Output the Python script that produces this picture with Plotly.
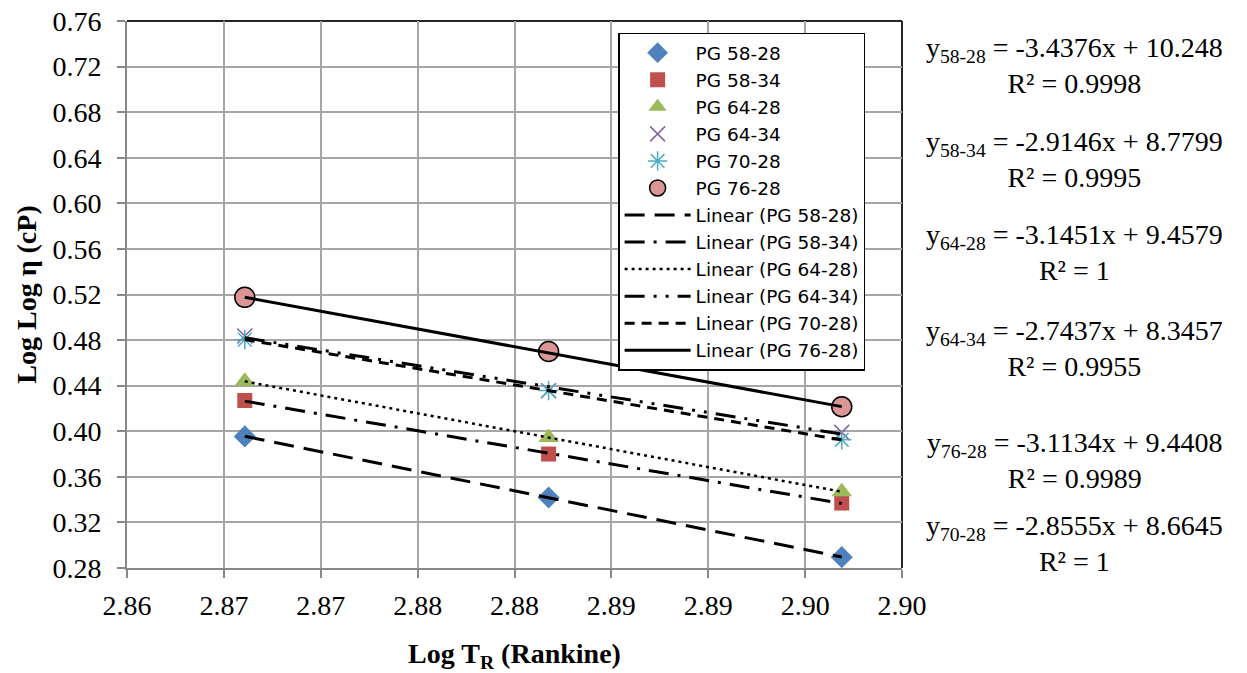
import plotly.graph_objects as go

# Log of absolute temperature (Rankine) at the three test temperatures
log_tr = [2.86608, 2.88176, 2.89689]

# Log Log viscosity (cP) for each binder grade
grades = ["PG 58-28", "PG 58-34", "PG 64-28", "PG 64-34", "PG 70-28", "PG 76-28"]
pg_58_28 = [0.3955, 0.3418, 0.2895]
pg_58_34 = [0.4270, 0.3800, 0.3370]
pg_64_28 = [0.4438, 0.3945, 0.3469]
pg_64_34 = [0.4835, 0.4355, 0.3990]
pg_70_28 = [0.4804, 0.4357, 0.3925]
pg_76_28 = [0.5175, 0.4700, 0.4215]
series = [pg_58_28, pg_58_34, pg_64_28, pg_64_34, pg_70_28, pg_76_28]

# Linear trendline coefficients (slope, intercept) and R² per grade
slopes = [-3.4376, -2.9146, -3.1451, -2.7437, -2.8555, -3.1134]
intercepts = [10.248, 8.7799, 9.4579, 8.3457, 8.6645, 9.4408]
r_squared = ["0.9998", "0.9995", "1", "0.9955", "1", "0.9989"]

# Axis ticks
x_tickvals = [2.860, 2.865, 2.870, 2.875, 2.880, 2.885, 2.890, 2.895, 2.900]
x_ticktext = ["2.86", "2.87", "2.87", "2.88", "2.88", "2.89", "2.89", "2.90", "2.90"]
y_tickvals = [0.28, 0.32, 0.36, 0.40, 0.44, 0.48, 0.52, 0.56, 0.60, 0.64, 0.68, 0.72, 0.76]

# Marker styling per grade
marker_styles = [
    dict(symbol="diamond", size=17, color="#4F81BD"),
    dict(symbol="square", size=15, color="#C0504D"),
    dict(symbol="triangle-up", size=18, color="#9BBB59"),
    dict(symbol="x-thin-open", size=15, color="#8064A2", line=dict(color="#8064A2", width=1.5)),
    dict(symbol="asterisk-open", size=16, color="#4BACC6", line=dict(color="#4BACC6", width=1.5)),
    dict(symbol="circle", size=20, color="#D99694", line=dict(color="#000000", width=1.5)),
]
line_dashes = [
    "20px,10px",
    "20px,9px,3px,9px",
    "3px,4px",
    "20px,9px,3px,9px,3px,9px",
    "10px,7px",
    "solid",
]
line_widths = [3, 3, 2.5, 3, 3, 3]

fig = go.Figure()

for name, ys, mk in zip(grades, series, marker_styles):
    fig.add_trace(go.Scatter(x=log_tr, y=ys, mode="markers", name=name, marker=mk))

x_fit = [min(log_tr), max(log_tr)]
for name, m, b, dash, w in zip(grades, slopes, intercepts, line_dashes, line_widths):
    fig.add_trace(go.Scatter(
        x=x_fit, y=[m * xv + b for xv in x_fit], mode="lines",
        name=f"Linear ({name})", line=dict(color="#000000", width=w, dash=dash),
    ))

# Trendline equation labels to the right of the plot
label_order = [0, 1, 2, 3, 5, 4]
label_y = [66, 160, 253, 349, 461, 544]
for idx, ypix in zip(label_order, label_y):
    tag = grades[idx].replace("PG ", "")
    text = (f"y<sub>{tag}</sub> = {slopes[idx]}x + {intercepts[idx]}"
            f"<br>R² = {r_squared[idx]}")
    fig.add_annotation(
        xref="paper", yref="paper",
        x=(1075 - 126.7) / 775.3, y=(568.5 - ypix) / 547.5,
        text=text, showarrow=False, align="center",
        xanchor="center", yanchor="middle",
        font=dict(family="Liberation Serif", size=28, color="#000000"),
    )

# Dark frame on the top and right sides of the plot area
fig.add_shape(type="line", xref="paper", yref="paper", x0=0, x1=1, y0=1, y1=1,
              line=dict(color="#262626", width=2), layer="below")
fig.add_shape(type="line", xref="paper", yref="paper", x0=1, x1=1, y0=0, y1=1,
              line=dict(color="#262626", width=2), layer="below")

axis_common = dict(
    showgrid=True, gridcolor="#A6A6A6", gridwidth=1.5,
    showline=True, linecolor="#888888", linewidth=2,
    ticks="outside", ticklen=8, tickcolor="#888888", tickwidth=1.5,
    tickfont=dict(family="Liberation Serif", size=28, color="#000000"),
    zeroline=False, automargin=False,
)

fig.update_layout(
    width=1247, height=673,
    margin=dict(l=126.7, r=345, t=21, b=104.5, autoexpand=False),
    plot_bgcolor="#FFFFFF", paper_bgcolor="#FFFFFF",
    xaxis=dict(
        range=[2.86, 2.90], tickmode="array",
        tickvals=x_tickvals, ticktext=x_ticktext, ticklabelstandoff=3,
        title=dict(text="<b>Log T<sub>R</sub> (Rankine)</b>", standoff=27,
                   font=dict(family="Liberation Serif", size=28, color="#000000")),
        **axis_common,
    ),
    yaxis=dict(
        range=[0.28, 0.76], tickmode="array", tickvals=y_tickvals, tickformat=".2f",
        ticklabelstandoff=10,
        title=dict(text="<b>Log Log η (cP)</b>", standoff=8,
                   font=dict(family="Liberation Serif", size=28, color="#000000")),
        **axis_common,
    ),
    legend=dict(
        x=(618 - 126.7) / 775.3, y=(568.5 - 32.7) / 547.5,
        xanchor="left", yanchor="top",
        bgcolor="#FFFFFF", bordercolor="#000000", borderwidth=1.5,
        font=dict(family="DejaVu Sans", size=18.5, color="#000000"),
        itemwidth=66, tracegroupgap=0,
    ),
    showlegend=True,
)

fig.write_html("out.html")
